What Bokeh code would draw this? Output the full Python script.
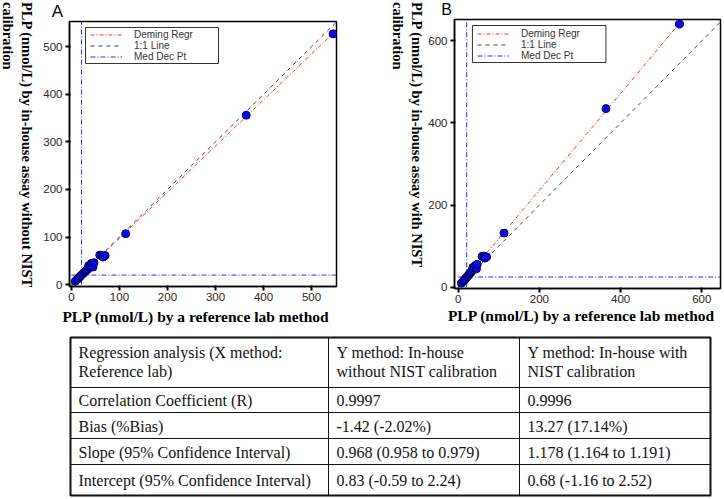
import math
from bokeh.plotting import figure
from bokeh.models import Range1d, Legend, LegendItem, FixedTicker
from bokeh.layouts import row, column
from bokeh.embed import file_html
from bokeh.resources import INLINE

# ---------------- data ----------------
ref_x = [8, 12, 15, 18, 20, 23, 26, 28, 30, 32, 34, 36, 38, 40, 42, 45, 47, 59, 63, 66, 70, 113, 364, 545]
y_without = [7, 11, 14, 17, 19, 22, 25, 27, 29, 31, 33, 40, 36, 38, 45, 37, 46, 62, 61, 58, 61, 107, 356, 527]
y_with = [10, 14, 17, 21, 23, 27, 30, 33, 35, 37, 40, 48, 44, 46, 53, 45, 56, 75, 76, 71, 74, 132, 435, 641]

slope_without, intercept_without = 0.968, 0.83
slope_with, intercept_with = 1.178, 0.68
med_x = 21
med_y_without = 20
med_y_with = 25

ticks_a = [0, 100, 200, 300, 400, 500]
ticks_b = [0, 200, 400, 600]

legend_labels = ["Deming Regr", "1:1 Line", "Med Dec Pt"]
x_title = "PLP (nmol/L) by a reference lab method"
y_title_a = "PLP (nmol/L) by in-house assay without NIST"
y_title_b = "PLP (nmol/L) by in-house assay  with NIST"
y_title_2 = "calibration"

header = [["Regression analysis (X method:", "Reference lab)"],
          ["Y method: In-house", "without NIST calibration"],
          ["Y method: In-house with", "NIST calibration"]]
row_labels = ["Correlation Coefficient (R)", "Bias (%Bias)",
              "Slope (95% Confidence Interval)", "Intercept (95% Confidence Interval)"]
col_without = ["0.9997", "-1.42 (-2.02%)", "0.968 (0.958 to 0.979)", "0.83 (-0.59 to 2.24)"]
col_with = ["0.9996", "13.27 (17.14%)", "1.178 (1.164 to 1.191)", "0.68 (-1.16 to 2.52)"]

SANS = "Liberation Sans"
SERIF = "Liberation Serif"
TOP_H = 334
BASE_SHIFT = 0.32  # em; compensates the alphabetic baseline placement


def blank_fig(w, h):
    f = figure(width=w, height=h, x_range=Range1d(0, w), y_range=Range1d(h, 0),
               toolbar_location=None, output_backend="svg", title=None,
               x_axis_type=None, y_axis_type=None, min_border=0, frame_align=False)
    f.grid.visible = False
    f.outline_line_color = None
    return f


def text_fig(w, h, xs, ys, texts, font, size, style="normal", angle=0.0, align="left"):
    f = blank_fig(w, h)
    f.text(x=xs, y=ys, text=texts, angle=angle, text_font={"value": font},
           text_font_size="%gpx" % size, text_font_style=style, text_color="black",
           text_align=align, text_baseline="alphabetic")
    return f


def make_chart(ys, slope, intercept, med_y, xr, yr, ticks,
               fx0, fy0, width, height, frame_l, frame_r, frame_t, frame_b, box, leg_top):
    fw = frame_r - frame_l
    fh = frame_b - frame_t
    p = figure(width=width, height=height, x_range=Range1d(*xr), y_range=Range1d(*yr),
               toolbar_location=None, output_backend="svg", title=None, frame_align=False,
               min_border_left=frame_l - fx0, min_border_right=fx0 + width - frame_r,
               min_border_top=frame_t - fy0, min_border_bottom=fy0 + height - frame_b)
    ppx = fw / (xr[1] - xr[0])
    ppy = fh / (yr[1] - yr[0])

    def dx(ix):
        return xr[0] + (ix - frame_l) / ppx

    def dy(iy):
        return yr[0] + (frame_b - iy) / ppy

    p.grid.visible = False
    p.outline_line_color = "black"
    p.outline_line_width = 1.5
    for ax in (p.xaxis[0], p.yaxis[0]):
        ax.ticker = FixedTicker(ticks=ticks)
        ax.minor_tick_line_color = None
        ax.major_tick_out = 4
        ax.major_tick_in = 1
        ax.major_tick_line_width = 2
        ax.axis_line_width = 1.5
        ax.major_label_text_font = SANS
        ax.major_label_text_font_size = "11.5px"
        ax.major_label_text_color = "#2a2420"
    p.xaxis[0].major_label_standoff = 2
    p.yaxis[0].major_label_standoff = 3

    xmax_data = max(ref_x)
    r_dem = p.line([0, xmax_data], [intercept, slope * xmax_data + intercept],
                   line_color="#ff2a2a", line_width=1, line_dash="4 2 1 2")
    lim = min(xr[1], yr[1])
    r_11 = p.line([0, lim], [0, lim], line_color="#444444", line_width=1, line_dash="4 4")
    r_med = p.line([med_x, med_x], [0, yr[1]], line_color="#2a2aff", line_width=1, line_dash="5 2 1 2")
    p.line([0, xr[1]], [med_y, med_y], line_color="#2a2aff", line_width=1, line_dash="5 2 1 2")
    p.scatter(ref_x, ys, size=8, fill_color="#0a0ae0", line_color="#000060", line_width=1)

    bxl, bxt, bw, bh = box
    p.quad(left=[dx(bxl)], right=[dx(bxl + bw)], top=[dy(bxt)], bottom=[dy(bxt + bh)],
           fill_color="white", line_color="#333333", line_width=1)
    leg = Legend(items=[LegendItem(label=legend_labels[0], renderers=[r_dem]),
                        LegendItem(label=legend_labels[1], renderers=[r_11]),
                        LegendItem(label=legend_labels[2], renderers=[r_med])],
                 location=(bxl + 5 - frame_l, frame_b - (leg_top + 34)), orientation="vertical",
                 padding=0, spacing=-1, margin=0, glyph_width=32, glyph_height=11,
                 label_height=11, label_standoff=12,
                 label_text_font=SANS, label_text_font_size="10px", label_text_color="#333333",
                 border_line_color=None, background_fill_alpha=0.0)
    p.add_layout(leg)
    return p


XT = 15.5
YT = 14.5

# ---- panel A column (page x 36..376) ----
letterA = text_fig(340, 20, [21], [16 - BASE_SHIFT * 17], ["A"], SANS, 17, align="center")
pA = make_chart(y_without, slope_without, intercept_without, med_y_without,
                (-4, 552), (-4, 553), ticks_a,
                fx0=36, fy0=20, width=340, height=286,
                frame_l=69, frame_r=336, frame_t=21, frame_b=286,
                box=(85, 27, 133, 36), leg_top=27.5)
xtA = text_fig(340, 28, [159.5], [14.5 - BASE_SHIFT * XT], [x_title], SERIF, XT,
               style="bold", align="center")
colA = column(letterA, pA, xtA, spacing=0)
ytA = text_fig(36, TOP_H, [21.5 + BASE_SHIFT * YT, 3.2 + BASE_SHIFT * YT], [1.5, 1.5],
               [y_title_a, y_title_2], SERIF, YT, style="bold", angle=-math.pi / 2)

# ---- panel B column (page x 425..724) ----
letterB = text_fig(299, 18, [21], [14.6 - BASE_SHIFT * 16], ["B"], SANS, 16, align="center")
pB = make_chart(y_with, slope_with, intercept_with, med_y_with,
                (-9, 646), (-3, 652), ticks_b,
                fx0=425, fy0=18, width=299, height=288,
                frame_l=453, frame_r=720, frame_t=19, frame_b=288,
                box=(471, 25, 134, 37), leg_top=27)
xtB = text_fig(299, 28, [156], [14.3 - BASE_SHIFT * XT], [x_title], SERIF, XT,
               style="bold", align="center")
colB = column(letterB, pB, xtB, spacing=0)
ytB = text_fig(49, TOP_H, [35.5 + BASE_SHIFT * YT, 16.5 + BASE_SHIFT * YT], [1.5, 1.5],
               [y_title_b, y_title_2], SERIF, YT, style="bold", angle=-math.pi / 2)

top = row(ytA, colA, ytB, colB, spacing=0)

# ---------------- table ----------------
TW, TH = 724, 499 - TOP_H
col_edges = [70, 328, 519, 710]
row_edges = [3, 53, 78, 104, 130, 161]
pad = 8

pt = blank_fig(TW, TH)
sx0, sy0, sx1, sy1 = [], [], [], []
for xe in col_edges[1:-1]:
    sx0.append(xe); sx1.append(xe); sy0.append(row_edges[0]); sy1.append(row_edges[-1])
for ye in row_edges[1:-1]:
    sx0.append(col_edges[0]); sx1.append(col_edges[-1]); sy0.append(ye); sy1.append(ye)
pt.segment(sx0, sy0, sx1, sy1, line_color="#111111", line_width=1)
pt.quad(left=[col_edges[0]], right=[col_edges[-1]], top=[row_edges[0]], bottom=[row_edges[-1]],
        fill_color=None, line_color="#111111", line_width=2)

tx, ty, tt = [], [], []
for ci, lines in enumerate(header):
    for li, s in enumerate(lines):
        tx.append(col_edges[ci] + pad)
        ty.append(row_edges[0] + 15 + li * 18.5)
        tt.append(s)
cols = [row_labels, col_without, col_with]
for ci, col in enumerate(cols):
    for ri, s in enumerate(col):
        tx.append(col_edges[ci] + pad)
        ty.append((row_edges[ri + 1] + row_edges[ri + 2]) / 2 + 0.5)
        tt.append(s)
pt.text(x=tx, y=ty, text=tt, text_font={"value": SERIF}, text_font_size="16px",
        text_color="#111111", text_align="left", text_baseline="middle")

layout = column(top, pt, spacing=0)
open("out.html", "w").write(file_html(layout, INLINE))
